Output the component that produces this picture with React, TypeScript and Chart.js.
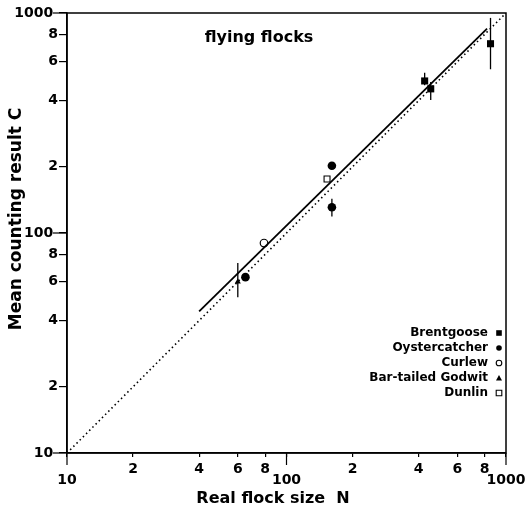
import { useEffect, useRef } from 'react';
import { Chart, registerables } from 'chart.js';

Chart.register(...registerables);

// ---- data ----
const brentN = [426, 454, 850];
const brentC = [491, 452, 725];
const brentLow = [470, 402, 555];
const brentHigh = [535, 486, 950];

const oysterN = [161, 161, 65];
const oysterC = [202, 131, 63];
const oysterLow: (number | null)[] = [null, 119, null];
const oysterHigh: (number | null)[] = [null, 143, null];

const curlewN = [79];
const curlewC = [90];

const godwitN = [60];
const godwitC = [60];
const godwitLow = [51];
const godwitHigh = [73];

const dunlinN = [153];
const dunlinC = [176];

const identityN = [10, 1000];
const identityC = [10, 1000];

const fitN = [40, 820];
const fitC = [44, 850];

const tickValues = [10, 20, 40, 60, 80, 100, 200, 400, 600, 800, 1000];
const yTickLabels = ['10 ', '2', '4', '6', '8', '100 ', '2', '4', '6', '8', '1000 '];
const xTickLabels = ['10', '2', '4', '6', '8', '100', '2', '4', '6', '8', '1000'];
const majorTicks = [10, 100, 1000];

const FONT = '"DejaVu Sans", "Liberation Sans", Arial, sans-serif';

const pts = (xs: number[], ys: number[]) => xs.map((x, i) => ({ x, y: ys[i] }));

function drawMarker(ctx: CanvasRenderingContext2D, style: string, x: number, y: number, r: number) {
  ctx.save();
  ctx.fillStyle = '#000';
  ctx.strokeStyle = '#000';
  ctx.lineWidth = 1.1;
  ctx.beginPath();
  if (style === 'rect' || style === 'rectOpen') {
    ctx.rect(x - r, y - r, 2 * r, 2 * r);
    if (style === 'rect') ctx.fill();
    else ctx.stroke();
  } else if (style === 'circle' || style === 'circleOpen') {
    ctx.arc(x, y, r, 0, Math.PI * 2);
    if (style === 'circle') ctx.fill();
    else ctx.stroke();
  } else if (style === 'triangle') {
    ctx.moveTo(x, y - r - 0.5);
    ctx.lineTo(x + r + 0.5, y + r);
    ctx.lineTo(x - r - 0.5, y + r);
    ctx.closePath();
    ctx.fill();
  }
  ctx.restore();
}

const overlay = {
  id: 'overlay',
  beforeDatasetsDraw(chart: any) {
    const { ctx, scales } = chart;
    const x = scales.x;
    const y = scales.y;
    ctx.save();
    ctx.strokeStyle = '#000';
    ctx.lineWidth = 1.3;
    chart.data.datasets.forEach((ds: any) => {
      if (!ds.errLow) return;
      ds.data.forEach((p: any, i: number) => {
        const lo = ds.errLow[i];
        const hi = ds.errHigh[i];
        if (lo == null || hi == null) return;
        const px = x.getPixelForValue(p.x);
        ctx.beginPath();
        ctx.moveTo(px, y.getPixelForValue(lo));
        ctx.lineTo(px, y.getPixelForValue(hi));
        ctx.stroke();
      });
    });
    ctx.restore();
  },
  afterDraw(chart: any) {
    const { ctx, chartArea: a, scales } = chart;
    const x = scales.x;
    const y = scales.y;
    ctx.save();
    // frame
    ctx.strokeStyle = '#000';
    ctx.lineWidth = 1.5;
    ctx.strokeRect(a.left, a.top, a.right - a.left, a.bottom - a.top);
    // long major ticks
    ctx.lineWidth = 1.2;
    majorTicks.forEach((v) => {
      const py = y.getPixelForValue(v);
      ctx.beginPath();
      ctx.moveTo(a.left - 14, py);
      ctx.lineTo(a.left, py);
      ctx.stroke();
      const px = x.getPixelForValue(v);
      ctx.beginPath();
      ctx.moveTo(px, a.bottom);
      ctx.lineTo(px, a.bottom + 12);
      ctx.stroke();
    });
    ctx.fillStyle = '#000';
    // inner title
    ctx.font = `bold 16px ${FONT}`;
    ctx.textAlign = 'center';
    ctx.textBaseline = 'middle';
    ctx.fillText('flying flocks', 259, 38);
    // x axis title
    ctx.fillText('Real flock size  N', 273, 499);
    // y axis title
    ctx.save();
    ctx.translate(17, 219);
    ctx.rotate(-Math.PI / 2);
    ctx.font = `bold 17px ${FONT}`;
    ctx.fillText('Mean counting result C', 0, 0);
    ctx.restore();
    // legend
    ctx.font = `bold 12px ${FONT}`;
    ctx.textAlign = 'right';
    ctx.textBaseline = 'middle';
    let row = 0;
    chart.data.datasets.forEach((ds: any) => {
      if (!ds.legendStyle) return;
      const ly = 333 + row * 15;
      ctx.fillText(ds.label, a.right - 18, ly);
      drawMarker(ctx, ds.legendStyle, a.right - 7, ly, ds.legendStyle === 'triangle' ? 2.5 : 2.8);
      row++;
    });
    ctx.restore();
  },
};

export default function App() {
  const ref = useRef<HTMLCanvasElement>(null);

  useEffect(() => {
    if (!ref.current) return;
    const black = '#000';
    const chart = new Chart(ref.current, {
      type: 'scatter',
      data: {
        datasets: [
          {
            label: 'identity',
            data: pts(identityN, identityC),
            showLine: true,
            borderColor: black,
            borderWidth: 1.6,
            borderDash: [1.5, 3],
            pointRadius: 0,
          },
          {
            label: 'fit',
            data: pts(fitN, fitC),
            showLine: true,
            borderColor: black,
            borderWidth: 1.8,
            pointRadius: 0,
          },
          {
            label: 'Brentgoose',
            data: pts(brentN, brentC),
            pointStyle: 'rect',
            pointRadius: 5,
            backgroundColor: black,
            borderColor: black,
            borderWidth: 0,
            errLow: brentLow,
            errHigh: brentHigh,
            legendStyle: 'rect',
          } as any,
          {
            label: 'Oystercatcher',
            data: pts(oysterN, oysterC),
            pointStyle: 'circle',
            pointRadius: 4.3,
            backgroundColor: black,
            borderColor: black,
            borderWidth: 0,
            errLow: oysterLow,
            errHigh: oysterHigh,
            legendStyle: 'circle',
          } as any,
          {
            label: 'Curlew',
            data: pts(curlewN, curlewC),
            pointStyle: 'circle',
            pointRadius: 3.8,
            backgroundColor: '#fff',
            borderColor: black,
            borderWidth: 1.2,
            legendStyle: 'circleOpen',
          } as any,
          {
            label: 'Bar-tailed Godwit',
            data: pts(godwitN, godwitC),
            pointStyle: 'triangle',
            pointRadius: 3.5,
            backgroundColor: black,
            borderColor: black,
            borderWidth: 0,
            errLow: godwitLow,
            errHigh: godwitHigh,
            legendStyle: 'triangle',
          } as any,
          {
            label: 'Dunlin',
            data: pts(dunlinN, dunlinC),
            pointStyle: 'rect',
            pointRadius: 4.2,
            backgroundColor: '#fff',
            borderColor: black,
            borderWidth: 1.1,
            legendStyle: 'rectOpen',
          } as any,
        ],
      },
      options: {
        responsive: false,
        animation: false,
        devicePixelRatio: 1,
        layout: { padding: { top: 13, right: 22, left: 0, bottom: 0 } },
        plugins: { legend: { display: false }, tooltip: { enabled: false }, title: { display: false } },
        scales: {
          x: {
            type: 'logarithmic',
            min: 10,
            max: 1000,
            afterFit: (s: any) => {
              s.height = 60;
              s.paddingLeft = 0;
              s.paddingRight = 0;
            },
            afterBuildTicks: (s: any) => {
              s.ticks = tickValues.map((v) => ({ value: v }));
            },
            ticks: {
              autoSkip: false,
              maxRotation: 0,
              minRotation: 0,
              padding: 6,
              color: black,
              font: { family: FONT, weight: 'bold', size: 14, lineHeight: 0.85 },
              callback: (v: any) => {
                const i = tickValues.indexOf(Number(v));
                if (i < 0) return '';
                return majorTicks.includes(tickValues[i]) ? ['', xTickLabels[i]] : xTickLabels[i];
              },
            },
            grid: { drawOnChartArea: false, tickLength: 4, color: black, lineWidth: 1.2 },
            border: { color: black, width: 1.5 },
          },
          y: {
            type: 'logarithmic',
            min: 10,
            max: 1000,
            afterFit: (s: any) => {
              s.width = 67;
              s.paddingTop = 0;
              s.paddingBottom = 0;
            },
            afterBuildTicks: (s: any) => {
              s.ticks = tickValues.map((v) => ({ value: v }));
            },
            ticks: {
              autoSkip: false,
              padding: 1,
              color: black,
              font: { family: FONT, weight: 'bold', size: 14 },
              callback: (v: any) => {
                const i = tickValues.indexOf(Number(v));
                return i < 0 ? '' : yTickLabels[i];
              },
            },
            grid: { drawOnChartArea: false, tickLength: 8, color: black, lineWidth: 1.2 },
            border: { color: black, width: 1.5 },
          },
        },
      } as any,
      plugins: [overlay],
    });
    return () => chart.destroy();
  }, []);

  return (
    <div style={{ position: 'absolute', left: 0, top: 0, width: 528, height: 513, background: '#fff' }}>
      <canvas ref={ref} width={528} height={513} />
    </div>
  );
}
